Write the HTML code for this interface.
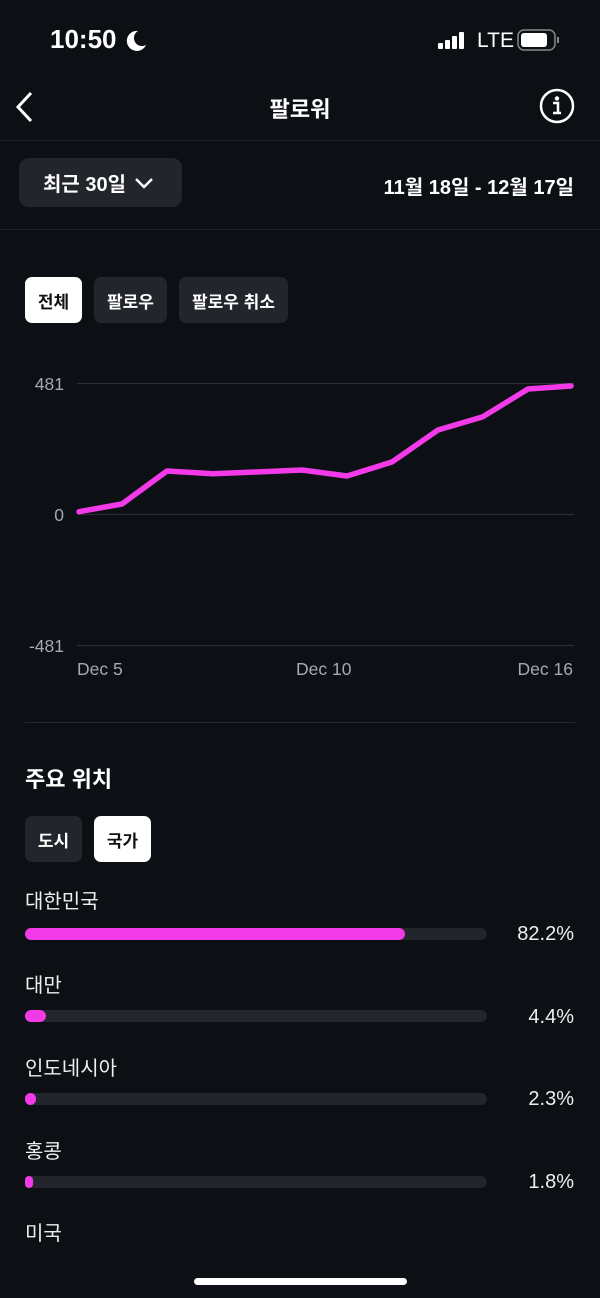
<!DOCTYPE html>
<html><head><meta charset="utf-8"><style>
*{margin:0;padding:0;box-sizing:border-box}
body{width:600px;height:1298px;background:#0c0f14;color:#fff;font-family:"Liberation Sans","Noto Sans CJK KR",sans-serif;position:relative;overflow:hidden}
.a{position:absolute;white-space:nowrap}
.btn{position:absolute;background:#22252b;border-radius:7px;font-size:17px;font-weight:bold;display:flex;align-items:center;justify-content:center;color:#fff}
.btn.on{background:#fff;color:#111}
.hr{position:absolute;left:0;width:600px;height:1px;background:#1f2228}
.bar{position:absolute;left:25px;width:462px;height:12px;background:#22252b;border-radius:6px}
.bar i{position:absolute;left:0;top:0;height:12px;background:#f23ae8;border-radius:6px}
.lab{position:absolute;left:25px;font-size:20px;color:#eee}
.pct{position:absolute;right:26px;font-size:20px;color:#eee}
</style></head><body>
<div class="a" style="left:50px;top:24px;font-size:26px;font-weight:bold">10:50</div>
<svg class="a" style="left:124px;top:28px" width="24" height="24"><path d="M14 3a10 10 0 1 0 8 14A8 8 0 0 1 14 3z" fill="#fff"/></svg>
<svg class="a" style="left:438px;top:30px" width="34" height="20"><rect x="0" y="13" width="5" height="6" rx="1" fill="#fff"/><rect x="7" y="10" width="5" height="9" rx="1" fill="#fff"/><rect x="14" y="6" width="5" height="13" rx="1" fill="#fff"/><rect x="21" y="2" width="5" height="17" rx="1" fill="#fff"/></svg>
<div class="a" style="left:477px;top:29px;font-size:21px">LTE</div>
<svg class="a" style="left:517px;top:29px" width="44" height="24"><rect x="1" y="1" width="37" height="20" rx="6" fill="none" stroke="#888" stroke-width="1.5"/><rect x="4" y="4" width="26" height="14" rx="3" fill="#fff"/><rect x="40" y="8" width="2" height="6" fill="#888"/></svg>
<svg class="a" style="left:12px;top:90px" width="24" height="34"><path d="M19 3L6 17l13 14" fill="none" stroke="#fff" stroke-width="3"/></svg>
<div class="a" style="left:0;width:600px;text-align:center;top:92px;font-size:22px;font-weight:bold">팔로워</div>
<svg class="a" style="left:538px;top:87px" width="38" height="38"><circle cx="19" cy="19" r="16" fill="none" stroke="#fff" stroke-width="2.5"/><circle cx="19" cy="11.5" r="2.2" fill="#fff"/><path d="M15 16h5v10h3M15 26h8" fill="none" stroke="#fff" stroke-width="2.5"/></svg>
<div class="hr" style="top:140px"></div>
<div class="btn" style="left:19px;top:158px;width:163px;height:49px;border-radius:10px;font-size:20px;justify-content:flex-start;padding-left:24px">최근 30일 <svg width="20" height="14" style="margin-left:8px"><path d="M2 3l8 8 8-8" fill="none" stroke="#fff" stroke-width="2.5"/></svg></div>
<div class="a" style="right:26px;top:171px;font-size:20px;font-weight:bold">11월 18일 - 12월 17일</div>
<div class="hr" style="top:229px"></div>
<div class="btn on" style="left:25px;top:277px;width:57px;height:46px">전체</div>
<div class="btn" style="left:94px;top:277px;width:73px;height:46px">팔로우</div>
<div class="btn" style="left:179px;top:277px;width:109px;height:46px">팔로우 취소</div>
<svg class="a" style="left:0;top:360px" width="600" height="330">
<g stroke="#2a2d33" stroke-width="1.3"><line x1="77" y1="23.5" x2="574" y2="23.5"/><line x1="77" y1="154.5" x2="574" y2="154.5"/><line x1="77" y1="285.5" x2="574" y2="285.5"/></g>
<g fill="#a6a9ae" font-size="17.5" font-family="Liberation Sans,sans-serif"><text x="64" y="30" text-anchor="end">481</text><text x="64" y="161" text-anchor="end">0</text><text x="64" y="292" text-anchor="end">-481</text>
<text x="77" y="315">Dec 5</text><text x="296" y="315">Dec 10</text><text x="573" y="315" text-anchor="end">Dec 16</text></g>
<polyline fill="none" stroke="#f23ae8" stroke-width="5.5" stroke-linejoin="round" stroke-linecap="round" points="79,151.7 122,144 167,111 213,113.7 256,112 302,110 347,116 392,102 438,70 483,56.7 528,29 571,26"/>
</svg>
<div class="hr" style="top:722px;left:25px;width:550px;background:#262930"></div>
<div class="a" style="left:25px;top:762px;font-size:22px;font-weight:bold">주요 위치</div>
<div class="btn" style="left:25px;top:816px;width:57px;height:46px">도시</div>
<div class="btn on" style="left:94px;top:816px;width:57px;height:46px">국가</div>
<div class="lab" style="top:885px">대한민국</div><div class="bar" style="top:928px"><i style="width:380px"></i></div><div class="pct" style="top:923px">82.2%</div>
<div class="lab" style="top:969px">대만</div><div class="bar" style="top:1010px"><i style="width:21px"></i></div><div class="pct" style="top:1006px">4.4%</div>
<div class="lab" style="top:1052px">인도네시아</div><div class="bar" style="top:1093px"><i style="width:11px"></i></div><div class="pct" style="top:1088px">2.3%</div>
<div class="lab" style="top:1135px">홍콩</div><div class="bar" style="top:1176px"><i style="width:8px"></i></div><div class="pct" style="top:1171px">1.8%</div>
<div class="lab" style="top:1217px">미국</div>
<div class="a" style="left:194px;top:1278px;width:213px;height:7px;border-radius:4px;background:#fff"></div>
</body></html>
